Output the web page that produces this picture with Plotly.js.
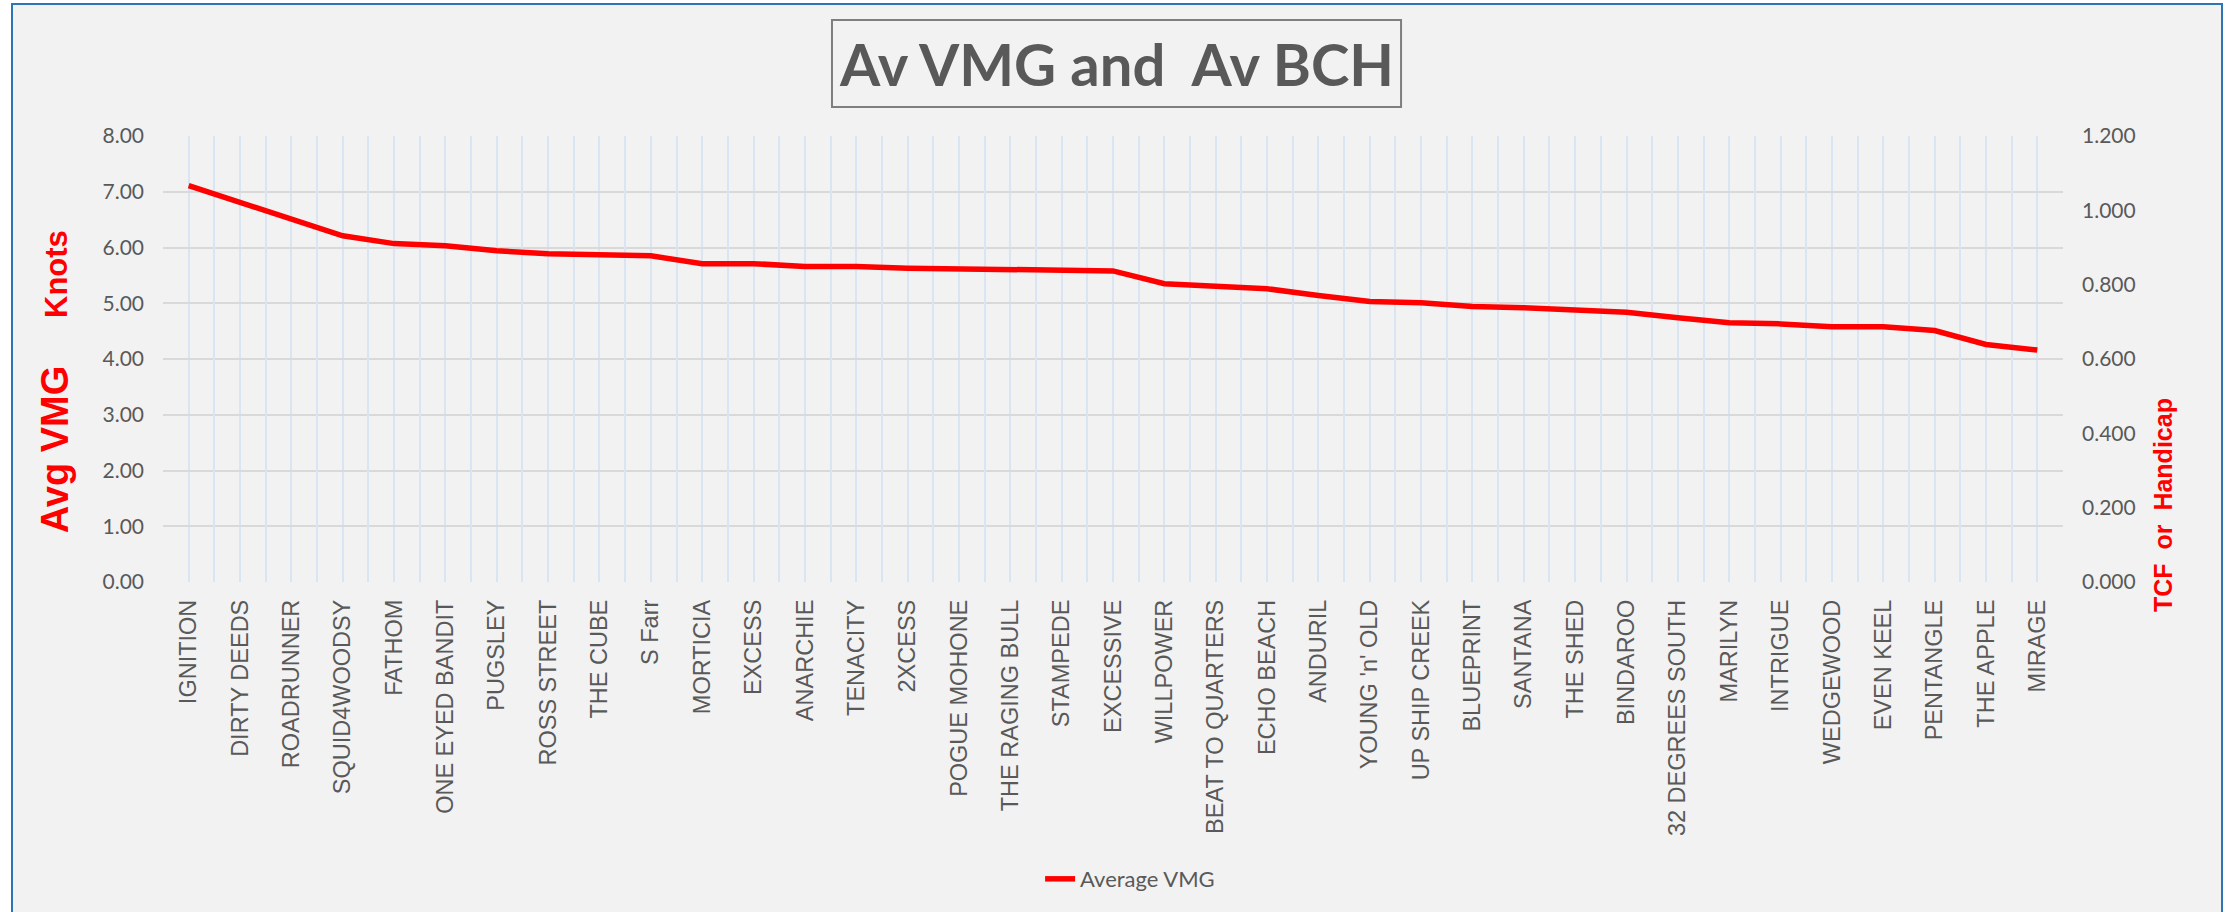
<!DOCTYPE html>
<html>
<head>
<meta charset="utf-8">
<script src="https://cdn.plot.ly/plotly-3.0.1.min.js"></script>
<style>
  html, body { margin: 0; padding: 0; background: #ffffff; overflow: hidden; width: 2233px; height: 912px; }
  #frame { position: absolute; left: 11px; top: 3px; width: 2208px; height: 930px; border: 2px solid #2e75b6; background: #f2f2f2; }
  #chart { width: 2208px; height: 930px; }
</style>
</head>
<body>
<div id="frame"><div id="chart"></div></div>
<script>
const boats = ["IGNITION", "DIRTY DEEDS", "ROADRUNNER", "SQUID4WOODSY", "FATHOM", "ONE EYED BANDIT",
  "PUGSLEY", "ROSS STREET", "THE CUBE", "S Farr", "MORTICIA", "EXCESS", "ANARCHIE", "TENACITY",
  "2XCESS", "POGUE MOHONE", "THE RAGING BULL", "STAMPEDE", "EXCESSIVE", "WILLPOWER",
  "BEAT TO QUARTERS", "ECHO BEACH", "ANDURIL", "YOUNG 'n' OLD", "UP SHIP CREEK", "BLUEPRINT",
  "SANTANA", "THE SHED", "BINDAROO", "32 DEGREES SOUTH", "MARILYN", "INTRIGUE", "WEDGEWOOD",
  "EVEN KEEL", "PENTANGLE", "THE APPLE", "MIRAGE"];
const averageVMG = [7.11, 6.81, 6.49, 6.21, 6.07, 6.03, 5.94, 5.89, 5.87, 5.85, 5.71, 5.71, 5.66, 5.66,
  5.63, 5.62, 5.60, 5.59, 5.58, 5.35, 5.31, 5.26, 5.14, 5.03, 5.01, 4.94, 4.92, 4.88, 4.84, 4.74,
  4.65, 4.63, 4.58, 4.58, 4.51, 4.26, 4.16];
const leftTicks = [0, 1, 2, 3, 4, 5, 6, 7, 8];
const rightTicks = [0, 0.2, 0.4, 0.6, 0.8, 1.0, 1.2];

const titleText = "Av VMG and\u00a0 Av BCH";
const leftTitleMain = "Avg VMG";
const leftTitleUnit = "Knots";
const rightTitle = "TCF\u00a0 or\u00a0 Handicap";
const seriesName = "Average VMG";

const grey = "#595959";

const traces = [
  {
    x: boats, y: averageVMG, type: "scatter", mode: "lines", name: seriesName,
    line: { color: "#ff0000", width: 5.5, shape: "linear" },
    hoverinfo: "x+y"
  },
  {
    x: boats, y: averageVMG, type: "scatter", mode: "lines", xaxis: "x2", yaxis: "y2",
    line: { color: "rgba(0,0,0,0)", width: 0 }, showlegend: false, hoverinfo: "skip"
  }
];

const layout = {
  width: 2208, height: 930,
  paper_bgcolor: "#f2f2f2", plot_bgcolor: "#f2f2f2",
  margin: { l: 150, r: 158, t: 131, b: 353, pad: 0 },
  showlegend: true,
  legend: {
    orientation: "h", x: 0.509, xanchor: "center", y: -0.666, yanchor: "middle",
    font: { family: "Lato", size: 22, color: grey }, bgcolor: "rgba(0,0,0,0)"
  },
  xaxis: {
    type: "category", categoryorder: "array", categoryarray: boats,
    range: [-0.5, boats.length - 0.5],
    showgrid: true, gridcolor: "#d9e5f2", gridwidth: 2,
    showline: false, zeroline: false, ticks: "",
    tickangle: -90, ticklabelstandoff: 12,
    tickfont: { family: "Liberation Sans", size: 23.5, color: grey }
  },
  xaxis2: {
    type: "category", categoryorder: "array", categoryarray: boats,
    range: [-0.5, boats.length - 0.5], overlaying: "x", tickson: "boundaries",
    showgrid: true, gridcolor: "#d9e5f2", gridwidth: 2,
    showticklabels: false, ticks: "", showline: false, zeroline: false
  },
  yaxis: {
    range: [0, 8], tickvals: leftTicks, tickformat: ".2f",
    showgrid: true, gridcolor: "#d9d9d9", gridwidth: 2,
    zeroline: false, showline: false, ticks: "", ticklabelstandoff: 18,
    tickfont: { family: "Lato", size: 21, color: grey }
  },
  yaxis2: {
    range: [0, 1.2], tickvals: rightTicks, tickformat: ".3f",
    overlaying: "y", side: "right", showgrid: false, zeroline: false, showline: false,
    ticks: "", ticklabelstandoff: 18,
    tickfont: { family: "Lato", size: 21, color: grey }
  },
  shapes: [
    { type: "rect", xref: "paper", yref: "paper", x0: 0.3521, x1: 0.6516, y0: 1.065, y1: 1.2601,
      line: { color: "#7f7f7f", width: 2 }, fillcolor: "rgba(0,0,0,0)", layer: "above" }
  ],
  annotations: [
    { text: "<b>" + titleText + "</b>", xref: "paper", yref: "paper", x: 0.5016, y: 1.1626,
      xanchor: "center", yanchor: "middle", showarrow: false,
      font: { family: "Lato", size: 58, color: grey } },
    { text: "<b>" + leftTitleMain + "</b>", xref: "paper", yref: "paper", x: -0.0568, y: 0.298,
      xanchor: "center", yanchor: "middle", textangle: -90, showarrow: false,
      font: { family: "Liberation Sans", size: 38, color: "#ff0000" } },
    { text: "<b>" + leftTitleUnit + "</b>", xref: "paper", yref: "paper", x: -0.0558, y: 0.6906,
      xanchor: "center", yanchor: "middle", textangle: -90, showarrow: false,
      font: { family: "Liberation Sans", size: 31, color: "#ff0000" } },
    { text: "<b>" + rightTitle + "</b>", xref: "paper", yref: "paper", x: 1.053, y: 0.172,
      xanchor: "center", yanchor: "middle", textangle: -90, showarrow: false,
      font: { family: "Liberation Sans", size: 25, color: "#ff0000" } }
  ]
};

Plotly.newPlot("chart", traces, layout, { displayModeBar: false, staticPlot: true });
</script>
</body>
</html>
